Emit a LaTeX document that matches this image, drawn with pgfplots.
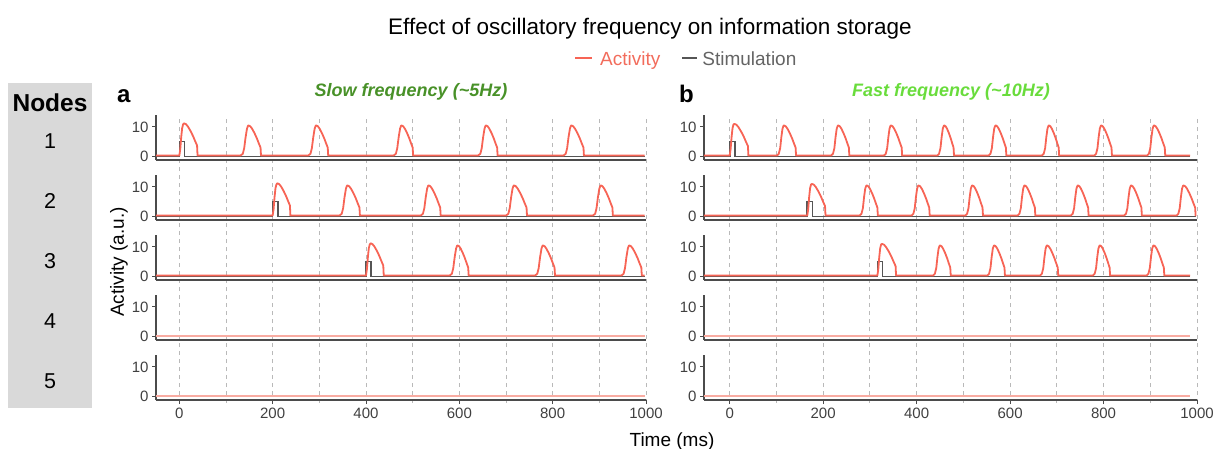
\documentclass[border=0pt]{standalone}
\usepackage{pgfplots}
\pgfplotsset{compat=1.18}
\usepackage{fontspec}
\setmainfont{Liberation Sans}
\definecolor{act}{RGB}{247,100,85}
\definecolor{acttext}{RGB}{242,108,92}
\definecolor{actfaint}{RGB}{249,172,162}
\definecolor{stim}{RGB}{85,85,85}
\definecolor{stimtext}{RGB}{100,100,100}
\definecolor{axisgray}{RGB}{75,75,75}
\definecolor{gridgray}{RGB}{185,185,185}
\definecolor{nodegray}{RGB}{217,217,217}
\definecolor{slowgreen}{RGB}{72,145,40}
\definecolor{fastgreen}{RGB}{105,220,60}
\pgfplotsset{
  rowL/.style={scale only axis, width=490pt, height=45pt, xmin=-50, xmax=1000},
  rowR/.style={scale only axis, width=493pt, height=45pt, xmin=-55, xmax=1000},
  row/.style={ymin=-1.2, ymax=14,
    axis x line=bottom, axis y line=left,
    axis line style={draw=axisgray, line width=1.1pt, -},
    ytick={0,10}, xtick=\empty,
    tick align=outside, major tick length=4pt,
    tick style={draw=axisgray, line width=0.9pt},
    ticklabel style={font=\fontsize{15}{15}\selectfont, text=black!75},
    /pgf/number format/assume math mode=true,
    /pgf/number format/1000 sep={}},
  bottomrow/.style={xtick={0,200,...,1000}},
  bgL/.style={scale only axis, width=490pt, height=288pt, xmin=-50, xmax=1000},
  bgR/.style={scale only axis, width=493pt, height=288pt, xmin=-55, xmax=1000},
  bg/.style={ymin=0, ymax=1, axis line style={draw=none}, tick style={draw=none},
    xtick={0,100,...,1000}, xticklabels={}, ytick=\empty, xmajorgrids,
    grid style={draw=gridgray, line width=1pt, dash pattern=on 4pt off 4pt}},
  actline/.style={color=act, line width=1.8pt, no markers, line join=round},
  faintline/.style={draw=actfaint, line width=2pt, no markers},
  stimline/.style={color=stim, line width=1.6pt, no markers},
}
\begin{document}
\begin{tikzpicture}[x=1pt,y=1pt]
\useasboundingbox (0,0) rectangle (1221,-448);
% Nodes column
\fill[nodegray] (8,-83) rectangle (92,-408);
\node[font=\fontsize{24.5}{24.5}\selectfont\bfseries, anchor=base, inner sep=0] at (50,-111) {Nodes};
\foreach \n/\yy in {1/148,2/208,3/268,4/328,5/388}
  \node[font=\fontsize{21.5}{21.5}\selectfont, anchor=base, inner sep=0] at (50,-\yy) {\n};
% Titles
\node[font=\fontsize{22.5}{22.5}\selectfont, anchor=base, inner sep=0] at (650,-34) {Effect of oscillatory frequency on information storage};
\node[font=\fontsize{19}{19}\selectfont, anchor=base west, inner sep=0] at (575,-65)
  {{\color{act}\rule[6pt]{17pt}{2.5pt}}\hspace{8pt}{\color{acttext}Activity}\hspace{22pt}{\color{stim}\rule[6pt]{15pt}{2.5pt}}\hspace{5pt}{\color{stimtext}Stimulation}};
\node[font=\fontsize{24}{24}\selectfont\bfseries, anchor=base west, inner sep=0] at (117,-102) {a};
\node[font=\fontsize{24}{24}\selectfont\bfseries, anchor=base west, inner sep=0] at (679,-102) {b};
\node[font=\fontsize{18}{18}\selectfont\bfseries\itshape, text=slowgreen, anchor=base, inner sep=0] at (411,-96) {Slow frequency (\textasciitilde 5Hz)};
\node[font=\fontsize{18}{18}\selectfont\bfseries\itshape, text=fastgreen, anchor=base, inner sep=0] at (951,-96) {Fast frequency (\textasciitilde 10Hz)};
\node[font=\fontsize{19}{19}\selectfont, rotate=90, anchor=center, inner sep=0] at (119,-262) {Activity (a.u.)};
\node[font=\fontsize{19}{19}\selectfont, anchor=base, inner sep=0] at (672,-446) {Time (ms)};

% ---------- background grids ----------
\begin{axis}[bgL, bg, at={(156pt,-403pt)}, anchor=south west]
\addplot[draw=none] coordinates {(0,0)};
\end{axis}
\begin{axis}[bgR, bg, at={(704pt,-403pt)}, anchor=south west]
\addplot[draw=none] coordinates {(0,0)};
\end{axis}

% ---------- LEFT PANEL ----------
\begin{axis}[rowL, row, at={(156pt,-160pt)}, anchor=south west]
\addplot[stimline] coordinates {(-50,0)(0,0)(0,5)(11,5)(11,0)(997,0)};
\addplot[actline] coordinates {(-50,0.3)
(0,0.3)(2,2.5)(4,6.5)(6,9.5)(8,10.8)(10,11.2)(14.2,10.9)(18.4,10.1)(24,8.6)(29.6,6.8)(33.8,5.2)(38,3.7)(39,0.3)
(131,0.3)(136,0.9)(139,2.8)(142,6.5)(145,9.4)(147,10.3)(148,10.5)(151.9,10.2)(155.8,9.4)(161,7.9)(166.2,6.1)(170.1,4.5)(174,3.0)(175,0.3)
(276,0.3)(281,0.9)(284,2.8)(287,6.5)(290,9.4)(292,10.3)(293,10.5)(296.8,10.2)(300.5,9.4)(305.5,7.9)(310.5,6.1)(314.3,4.5)(318,3.0)(319,0.3)
(459,0.3)(464,0.9)(467,2.8)(470,6.5)(473,9.4)(475,10.3)(476,10.5)(479.6,10.2)(483.2,9.4)(488,7.9)(492.8,6.1)(496.4,4.5)(500,3.0)(501,0.3)
(640,0.3)(645,0.9)(648,2.8)(651,6.5)(654,9.4)(656,10.3)(657,10.5)(660.6,10.2)(664.2,9.4)(669,7.9)(673.8,6.1)(677.4,4.5)(681,3.0)(682,0.3)
(823,0.3)(828,0.9)(831,2.8)(834,6.5)(837,9.4)(839,10.3)(840,10.5)(843.9,10.2)(847.8,9.4)(853,7.9)(858.2,6.1)(862.1,4.5)(866,3.0)(867,0.3)
(997,0.3)};
\end{axis}

\begin{axis}[rowL, row, at={(156pt,-220pt)}, anchor=south west]
\addplot[stimline] coordinates {(-50,0)(200,0)(200,5)(211,5)(211,0)(997,0)};
\addplot[actline] coordinates {(-50,0.3)
(200,0.3)(202,2.5)(204,6.5)(206,9.5)(208,10.8)(210,11.2)(214,10.9)(218.1,10.1)(223.5,8.6)(228.9,6.8)(233,5.2)(237,3.7)(238,0.3)
(343,0.3)(348,0.9)(351,2.8)(354,6.5)(357,9.4)(359,10.3)(360,10.5)(363.9,10.2)(367.8,9.4)(373,7.9)(378.2,6.1)(382.1,4.5)(386,3.0)(387,0.3)
(517,0.3)(522,0.9)(525,2.8)(528,6.5)(531,9.4)(533,10.3)(534,10.5)(537.8,10.2)(541.5,9.4)(546.5,7.9)(551.5,6.1)(555.3,4.5)(559,3.0)(560,0.3)
(700,0.3)(705,0.9)(708,2.8)(711,6.5)(714,9.4)(716,10.3)(717,10.5)(721,10.2)(725.1,9.4)(730.5,7.9)(735.9,6.1)(740,4.5)(744,3.0)(745,0.3)
(886,0.3)(891,0.9)(894,2.8)(897,6.5)(900,9.4)(902,10.3)(903,10.5)(906.8,10.2)(910.5,9.4)(915.5,7.9)(920.5,6.1)(924.3,4.5)(928,3.0)(929,0.3)
(997,0.3)};
\end{axis}

\begin{axis}[rowL, row, at={(156pt,-280pt)}, anchor=south west]
\addplot[stimline] coordinates {(-50,0)(400,0)(400,5)(411,5)(411,0)(997,0)};
\addplot[actline] coordinates {(-50,0.3)
(400,0.3)(402,2.5)(404,6.5)(406,9.5)(408,10.8)(410,11.2)(414,10.9)(418.1,10.1)(423.5,8.6)(428.9,6.8)(433,5.2)(437,3.7)(438,0.3)
(579,0.3)(584,0.9)(587,2.8)(590,6.5)(593,9.4)(595,10.3)(596,10.5)(599.5,10.2)(602.9,9.4)(607.5,7.9)(612.1,6.1)(615.6,4.5)(619,3.0)(620,0.3)
(762,0.3)(767,0.9)(770,2.8)(773,6.5)(776,9.4)(778,10.3)(779,10.5)(782.8,10.2)(786.5,9.4)(791.5,7.9)(796.5,6.1)(800.3,4.5)(804,3.0)(805,0.3)
(947,0.3)(952,0.9)(955,2.8)(958,6.5)(961,9.4)(963,10.3)(964,10.5)(967.9,10.2)(971.8,9.4)(977,7.9)(982.2,6.1)(986.1,4.5)(990,3.0)(991,0.3)
(997,0.3)};
\end{axis}

\begin{axis}[rowL, row, at={(156pt,-340pt)}, anchor=south west]
\addplot[faintline] coordinates {(-50,0.3)(997,0.3)};
\end{axis}

\begin{axis}[rowL, row, bottomrow, at={(156pt,-400pt)}, anchor=south west]
\addplot[faintline] coordinates {(-50,0.3)(997,0.3)};
\end{axis}

% ---------- RIGHT PANEL ----------
\begin{axis}[rowR, row, at={(704pt,-160pt)}, anchor=south west]
\addplot[stimline] coordinates {(-55,0)(0,0)(0,5)(11,5)(11,0)(985,0)};
\addplot[actline] coordinates {(-55,0.3)
(0,0.3)(2,2.5)(4,6.5)(6,9.5)(8,10.8)(10,11.0)(14.4,10.7)(18.7,9.9)(24.5,8.4)(30.3,6.6)(34.7,5.0)(39,3.5)(40,0.3)
(101,0.3)(105,0.9)(108,2.8)(110.5,6.5)(113,9.4)(115,10.3)(116,10.5)(119.8,10.2)(123.5,9.4)(128.5,7.9)(133.5,6.1)(137.3,4.5)(141,3.0)(142,0.3)
(217,0.3)(221,0.9)(224,2.8)(226.5,6.5)(229,9.4)(231,10.3)(232,10.5)(235.5,10.2)(238.9,9.4)(243.5,7.9)(248.1,6.1)(251.6,4.5)(255,3.0)(256,0.3)
(330,0.3)(334,0.9)(337,2.8)(339.5,6.5)(342,9.4)(344,10.3)(345,10.5)(348.5,10.2)(351.9,9.4)(356.5,7.9)(361.1,6.1)(364.6,4.5)(368,3.0)(369,0.3)
(444,0.3)(448,0.9)(451,2.8)(453.5,6.5)(456,9.4)(458,10.3)(459,10.5)(462,10.2)(465,9.4)(469,7.9)(473,6.1)(476,4.5)(479,3.0)(480,0.3)
(554,0.3)(558,0.9)(561,2.8)(563.5,6.5)(566,9.4)(568,10.3)(569,10.5)(572.3,10.2)(575.6,9.4)(580,7.9)(584.4,6.1)(587.7,4.5)(591,3.0)(592,0.3)
(668,0.3)(672,0.9)(675,2.8)(677.5,6.5)(680,9.4)(682,10.3)(683,10.5)(686.2,10.2)(689.3,9.4)(693.5,7.9)(697.7,6.1)(700.9,4.5)(704,3.0)(705,0.3)
(780,0.3)(784,0.9)(787,2.8)(789.5,6.5)(792,9.4)(794,10.3)(795,10.5)(798.3,10.2)(801.6,9.4)(806,7.9)(810.4,6.1)(813.7,4.5)(817,3.0)(818,0.3)
(893,0.3)(897,0.9)(900,2.8)(902.5,6.5)(905,9.4)(907,10.3)(908,10.5)(911.5,10.2)(914.9,9.4)(919.5,7.9)(924.1,6.1)(927.6,4.5)(931,3.0)(932,0.3)
(985,0.3)};
\end{axis}

\begin{axis}[rowR, row, at={(704pt,-220pt)}, anchor=south west]
\addplot[stimline] coordinates {(-55,0)(166,0)(166,5)(177,5)(177,0)(998,0)};
\addplot[actline] coordinates {(-55,0.3)
(166,0.3)(168,2.5)(170,6.5)(172,9.5)(174,10.8)(176,11.0)(180.2,10.7)(184.4,9.9)(190,8.4)(195.6,6.6)(199.8,5.0)(204,3.5)(205,0.3)
(278,0.3)(282,0.9)(285,2.8)(287.5,6.5)(290,9.4)(292,10.3)(293,10.5)(296.5,10.2)(299.9,9.4)(304.5,7.9)(309.1,6.1)(312.6,4.5)(316,3.0)(317,0.3)
(389,0.3)(393,0.9)(396,2.8)(398.5,6.5)(401,9.4)(403,10.3)(404,10.5)(407.5,10.2)(410.9,9.4)(415.5,7.9)(420.1,6.1)(423.6,4.5)(427,3.0)(428,0.3)
(504,0.3)(508,0.9)(511,2.8)(513.5,6.5)(516,9.4)(518,10.3)(519,10.5)(522.3,10.2)(525.6,9.4)(530,7.9)(534.4,6.1)(537.7,4.5)(541,3.0)(542,0.3)
(616,0.3)(620,0.9)(623,2.8)(625.5,6.5)(628,9.4)(630,10.3)(631,10.5)(634.3,10.2)(637.6,9.4)(642,7.9)(646.4,6.1)(649.7,4.5)(653,3.0)(654,0.3)
(730,0.3)(734,0.9)(737,2.8)(739.5,6.5)(742,9.4)(744,10.3)(745,10.5)(748.3,10.2)(751.6,9.4)(756,7.9)(760.4,6.1)(763.7,4.5)(767,3.0)(768,0.3)
(844,0.3)(848,0.9)(851,2.8)(853.5,6.5)(856,9.4)(858,10.3)(859,10.5)(862.3,10.2)(865.6,9.4)(870,7.9)(874.4,6.1)(877.7,4.5)(881,3.0)(882,0.3)
(956,0.3)(960,0.9)(963,2.8)(965.5,6.5)(968,9.4)(970,10.3)(971,10.5)(974.8,10.2)(978.5,9.4)(983.5,7.9)(988.5,6.1)(992.3,4.5)(996,3.0)(997,0.3)
(998,0.3)};
\end{axis}

\begin{axis}[rowR, row, at={(704pt,-280pt)}, anchor=south west]
\addplot[stimline] coordinates {(-55,0)(316,0)(316,5)(327,5)(327,0)(985,0)};
\addplot[actline] coordinates {(-55,0.3)
(316,0.3)(318,2.5)(320,6.5)(322,9.5)(324,10.8)(326,11.0)(330.4,10.7)(334.7,9.9)(340.5,8.4)(346.3,6.6)(350.7,5.0)(355,3.5)(356,0.3)
(435,0.3)(439,0.9)(442,2.8)(444.5,6.5)(447,9.4)(449,10.3)(450,10.5)(453.3,10.2)(456.6,9.4)(461,7.9)(465.4,6.1)(468.7,4.5)(472,3.0)(473,0.3)
(551,0.3)(555,0.9)(558,2.8)(560.5,6.5)(563,9.4)(565,10.3)(566,10.5)(569.3,10.2)(572.6,9.4)(577,7.9)(581.4,6.1)(584.7,4.5)(588,3.0)(589,0.3)
(664,0.3)(668,0.9)(671,2.8)(673.5,6.5)(676,9.4)(678,10.3)(679,10.5)(682.5,10.2)(685.9,9.4)(690.5,7.9)(695.1,6.1)(698.6,4.5)(702,3.0)(703,0.3)
(777,0.3)(781,0.9)(784,2.8)(786.5,6.5)(789,9.4)(791,10.3)(792,10.5)(795.2,10.2)(798.3,9.4)(802.5,7.9)(806.7,6.1)(809.9,4.5)(813,3.0)(814,0.3)
(892,0.3)(896,0.9)(899,2.8)(901.5,6.5)(904,9.4)(906,10.3)(907,10.5)(910.3,10.2)(913.6,9.4)(918,7.9)(922.4,6.1)(925.7,4.5)(929,3.0)(930,0.3)
(985,0.3)};
\end{axis}

\begin{axis}[rowR, row, at={(704pt,-340pt)}, anchor=south west]
\addplot[faintline] coordinates {(-55,0.3)(985,0.3)};
\end{axis}

\begin{axis}[rowR, row, bottomrow, at={(704pt,-400pt)}, anchor=south west]
\addplot[faintline] coordinates {(-55,0.3)(985,0.3)};
\end{axis}
\end{tikzpicture}
\end{document}
